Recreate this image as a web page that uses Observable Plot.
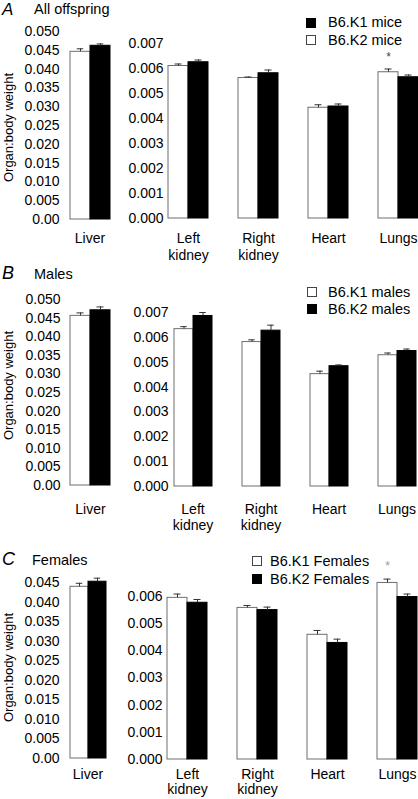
<!DOCTYPE html>
<html><head><meta charset="utf-8">
<script src="https://cdn.jsdelivr.net/npm/d3@7"></script>
<script src="https://cdn.jsdelivr.net/npm/@observablehq/plot@0.6"></script>
<style>
body{margin:0;background:#fff;font-family:"Liberation Sans",Arial,sans-serif;}
#root{position:relative;width:418px;height:799px;overflow:hidden;background:#fff;}
.abs{position:absolute;white-space:nowrap;line-height:1;color:#000;}
.sq{position:absolute;width:10px;height:10px;box-sizing:border-box;border:1px solid #222;}
#root svg{overflow:visible;}
</style></head><body><div id="root"></div>
<script>
// ---------- data ----------
const organs = ["Liver", "Left kidney", "Right kidney", "Heart", "Lungs"];
const organLabels = ["Liver", "Left\nkidney", "Right\nkidney", "Heart", "Lungs"];
const panelLetters = ["A", "B", "C"];
const panelTitles = ["All offspring", "Males", "Females"];
const yLabel = "Organ:body weight";
// legend entries (first line, second line) with swatch colour
const legendA = [["B6.K1 mice", "black"], ["B6.K2 mice", "white"]];
const legendB = [["B6.K1 males", "white"], ["B6.K2 males", "black"]];
const legendC = [["B6.K1 Females", "white"], ["B6.K2 Females", "black"]];
// white bars (first bar of each pair), order = organs
const whiteMeanA = [0.0446, 0.00610, 0.00562, 0.00443, 0.00585];
const whiteSEA   = [0.0008, 0.00008, 0.00004, 0.00012, 0.00013];
const blackMeanA = [0.0462, 0.00625, 0.00581, 0.00448, 0.00565];
const blackSEA   = [0.0005, 0.00009, 0.00013, 0.00010, 0.00009];
const whiteMeanB = [0.0456, 0.00633, 0.00581, 0.00452, 0.00528];
const whiteSEB   = [0.0008, 0.00010, 0.00009, 0.00012, 0.00009];
const blackMeanB = [0.0471, 0.00686, 0.00627, 0.00484, 0.00545];
const blackSEB   = [0.0009, 0.00014, 0.00022, 0.00005, 0.00008];
const whiteMeanC = [0.0439, 0.00595, 0.00558, 0.00459, 0.00650];
const whiteSEC   = [0.0009, 0.00014, 0.00009, 0.00016, 0.00014];
const blackMeanC = [0.0452, 0.00577, 0.00550, 0.00429, 0.00598];
const blackSEC   = [0.0009, 0.00012, 0.00011, 0.00014, 0.00011];
// significance marks (on white bar)
const starsA = ["Lungs"];
const starsB = [];
const starsC = ["Lungs"];
// tick values
const liverTicksAB = [0, 0.005, 0.010, 0.015, 0.020, 0.025, 0.030, 0.035, 0.040, 0.045, 0.050];
const liverTicksC  = [0, 0.005, 0.010, 0.015, 0.020, 0.025, 0.030, 0.035, 0.040, 0.045];
const otherTicksAB = [0, 0.001, 0.002, 0.003, 0.004, 0.005, 0.006, 0.007];
const otherTicksC  = [0, 0.001, 0.002, 0.003, 0.004, 0.005, 0.006];

// ---------- layout ----------
const panels = [
  {letter: panelLetters[0], title: panelTitles[0], legend: legendA, stars: starsA, starColor: "#444", starSize: 12, starDy: -8,
   wm: whiteMeanA, ws: whiteSEA, bm: blackMeanA, bs: blackSEA,
   liver: {left: 69, right: 110, zeroY: 219, topY: 31, yTop: 0.05, ticks: liverTicksAB, labelPad: 12, lh: 1.15},
   other: {left: 168, right: 418, zeroY: 217.5, topY: 42.5, yTop: 0.007, ticks: otherTicksAB, labelPad: 13.5, lh: 1.15},
   letterPos: [2, 15], letterSize: 17, titlePos: [34, 14.5], ylabY: 127,
   legPos: {sqX: 306, txtX: 328, sqY: [23, 40], base: [27.5, 45.5]}},
  {letter: panelLetters[1], title: panelTitles[1], legend: legendB, stars: starsB, starColor: "#444", starSize: 12, starDy: -8,
   wm: whiteMeanB, ws: whiteSEB, bm: blackMeanB, bs: blackSEB,
   liver: {left: 70, right: 110, zeroY: 485, topY: 299, yTop: 0.05, ticks: liverTicksAB, labelPad: 17, lh: 1.15},
   other: {left: 172, right: 416, zeroY: 486, topY: 312, yTop: 0.007, ticks: otherTicksAB, labelPad: 16, lh: 1.15},
   letterPos: [2, 279], letterSize: 18, titlePos: [34, 279], ylabY: 385,
   legPos: {sqX: 307, txtX: 328, sqY: [291.5, 308.7], base: [297, 314]}},
  {letter: panelLetters[2], title: panelTitles[2], legend: legendC, stars: starsC, starColor: "#999", starSize: 12, starDy: -9,
   wm: whiteMeanC, ws: whiteSEC, bm: blackMeanC, bs: blackSEC,
   liver: {left: 69, right: 106, zeroY: 758, topY: 582, yTop: 0.045, ticks: liverTicksC, labelPad: 9.5, lh: 1.1},
   other: {left: 167, right: 417, zeroY: 759, topY: 596, yTop: 0.006, ticks: otherTicksC, labelPad: 9, lh: 1.08},
   letterPos: [2, 565], letterSize: 18, titlePos: [32, 565], ylabY: 667,
   legPos: {sqX: 252, txtX: 270, sqY: [561, 579], base: [566.5, 584]}}
];

const root = document.getElementById("root");
const FONT = "Liberation Sans, Arial, Helvetica, sans-serif";

function addText(txt, x, baseline, size, extra) {
  const d = document.createElement("div");
  d.className = "abs";
  d.textContent = txt;
  d.style.left = x + "px";
  d.style.top = (baseline - 0.8465 * size) + "px";
  d.style.fontSize = size + "px";
  d.style.fontFamily = FONT;
  if (extra) Object.assign(d.style, extra);
  root.appendChild(d);
  return d;
}

const fmtLiver = d => d === 0 ? "0.00" : d.toFixed(3);
const fmtOther = d => d.toFixed(3);

function makePlot(rows, domain, f, svgLeft, svgWidth, fmt, p) {
  const T = f.topY - 30;
  const H = Math.min(799 - T, (f.zeroY - T) + 50);
  const n = domain.length;
  const pIn = n > 1 ? 0.4286 : 0;
  const step = (f.right - f.left) / (n - pIn);
  const bw = step * (1 - pIn);
  const capInset = Math.max(0, (bw / 2 - 7) / 2);
  const white = rows.filter(d => d.series === "white");
  const black = rows.filter(d => d.series === "black");
  const starRows = white.filter(d => p.stars.includes(d.organ));
  const chart = Plot.plot({
    width: svgWidth, height: H,
    marginLeft: f.left - svgLeft, marginRight: svgLeft + svgWidth - f.right,
    marginTop: f.topY - T, marginBottom: T + H - f.zeroY,
    style: {background: "transparent", fontFamily: FONT, fontSize: "14px", color: "#000", overflow: "visible"},
    fx: {domain, paddingInner: pIn, paddingOuter: 0, label: null},
    x: {domain: ["white", "black"], padding: 0, axis: null},
    y: {domain: [0, f.yTop], label: null},
    marks: [
      Plot.barY(white, {fx: "organ", x: "series", y: "mean", fill: "#fff", stroke: "#6e6e6e", strokeWidth: 1}),
      Plot.barY(black, {fx: "organ", x: "series", y: "mean", fill: "#000", stroke: "#000", strokeWidth: 1}),
      Plot.ruleX(rows, {fx: "organ", x: "series", y1: "mean", y2: d => d.mean + d.se, stroke: "#333", strokeWidth: 1}),
      Plot.tickY(rows, {fx: "organ", x: "series", y: d => d.mean + d.se, stroke: "#333", strokeWidth: 1, insetLeft: capInset, insetRight: capInset}),
      Plot.text(starRows, {fx: "organ", x: "series", y: d => d.mean + d.se, text: () => "*", dy: p.starDy, lineAnchor: "bottom", fill: p.starColor, fontSize: p.starSize}),
      Plot.axisY({ticks: f.ticks, tickFormat: fmt, tickSize: 0, tickPadding: f === p.liver ? 10 : 5, label: null, fontSize: 14}),
      Plot.axisFx({anchor: "bottom", tickSize: 0, tickPadding: f.labelPad, label: null, fontSize: 14, lineHeight: f.lh,
                   tickFormat: d => organLabels[organs.indexOf(d)]})
    ]
  });
  chart.style.position = "absolute";
  chart.style.left = svgLeft + "px";
  chart.style.top = T + "px";
  root.appendChild(chart);
}

panels.forEach(p => {
  const rows = [];
  organs.forEach((o, i) => {
    rows.push({organ: o, series: "white", mean: p.wm[i], se: p.ws[i]});
    rows.push({organ: o, series: "black", mean: p.bm[i], se: p.bs[i]});
  });
  makePlot(rows.filter(d => d.organ === "Liver"), organs.slice(0, 1), p.liver, 0, 120, fmtLiver, p);
  makePlot(rows.filter(d => d.organ !== "Liver"), organs.slice(1), p.other, 120, 298, fmtOther, p);

  // panel letter + title
  addText(p.letter, p.letterPos[0], p.letterPos[1], p.letterSize, {fontStyle: "italic"});
  addText(p.title, p.titlePos[0], p.titlePos[1], 14.5);
  // y label (rotated)
  addText(yLabel, -92, p.ylabY + 0.8465 * 13 - 6.5, 13, {width: "200px", textAlign: "center", transform: "rotate(-90deg)", transformOrigin: "100px 6.5px"});
  // legend
  p.legend.forEach(([label, col], k) => {
    const s = document.createElement("div");
    s.className = "sq";
    s.style.left = p.legPos.sqX + "px";
    s.style.top = (p.legPos.sqY[k] - 5) + "px";
    s.style.background = col === "black" ? "#000" : "#fff";
    s.style.borderColor = col === "black" ? "#000" : "#444";
    root.appendChild(s);
    addText(label, p.legPos.txtX, p.legPos.base[k], 14.5);
  });
});
</script></body></html>
